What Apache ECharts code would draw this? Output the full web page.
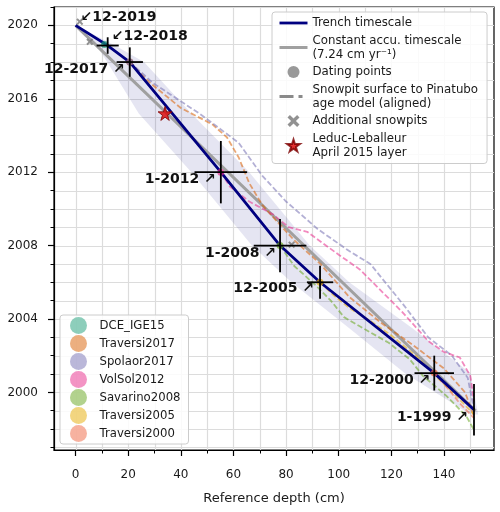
<!DOCTYPE html>
<html>
<head>
<meta charset="utf-8">
<script src="https://cdn.jsdelivr.net/npm/echarts@6/dist/echarts.min.js"></script>
<style>
  html, body { margin: 0; padding: 0; background: #fff; }
  #main { width: 500px; height: 512px; }
</style>
</head>
<body>
<div id="main"></div>
<script>
// axis ranges and ticks
var xMin = -8.2, xMax = 159, yMin = 1996.86, yMax = 2021.0;
var xMajor = [0, 20, 40, 60, 80, 100, 120, 140];
var xMinor = [10, 30, 50, 70, 90, 110, 130, 150];
var yMajor = [2000, 2004, 2008, 2012, 2016, 2020];
var yMinor = [1997, 1998, 1999, 2001, 2002, 2003, 2005, 2006, 2007, 2009, 2010, 2011, 2013, 2014, 2015, 2017, 2018, 2019, 2021];

// trench dating points
var datingLabels = ['12-2019', '12-2018', '12-2017', '1-2012', '1-2008', '12-2005', '12-2000', '1-1999'];
var datingDepth = [0, 12.2, 20.6, 55.2, 77.7, 92.9, 136.3, 151.4];
var datingYear = [2020.0, 2018.9, 2018.0, 2012.0, 2008.0, 2006.0, 2001.05, 1999.05];
var depthErr = [0, 4.2, 5, 10, 10, 5, 7.5, 0];
var yearErr = [0, 0.45, 0.8, 1.7, 1.45, 0.9, 0.95, 1.4];

// constant accumulation timescale (7.24 cm/yr)
var constDepth = [0, 152];
var constYear = [2020.0, 1999.0];

// uncertainty band around the trench timescale
var bandYear = [2020.0, 2018.9, 2018.0, 2015.2, 2012.0, 2008.0, 2006.0, 2003.5, 2001.05, 1998.8];
var bandLeft = [0, 8, 12, 24, 44, 67, 82, 104, 125, 150];
var bandRight = [0, 15, 26, 44, 66, 89, 104, 128, 150, 153];

// snowpits: [depth, year]
var pitNames = ['DCE_IGE15', 'Traversi2017', 'Spolaor2017', 'VolSol2012', 'Savarino2008', 'Traversi2005', 'Traversi2000'];
var dceIge15 = [[11.0, 2018.95]];
var traversi2017 = [[20.6, 2018.0], [28, 2016.9], [40, 2015.5], [52, 2014.6], [57.5, 2013.9], [62, 2012.8], [66, 2011.4], [71, 2010.2], [76, 2009.4], [83, 2008.3], [93, 2007.0], [104, 2005.2], [116, 2003.8], [128, 2002.6], [140, 2001.3], [148, 2000.0], [151.4, 1998.7]];
var spolaor2017 = [[20.6, 2018.0], [29.5, 2016.85], [47, 2015.2], [62, 2013.6], [71, 2011.8], [80, 2010.4], [92, 2008.9], [104, 2007.7], [112, 2007.0], [125, 2004.7], [134, 2003.0], [143, 2002.0], [149, 2000.8], [151.4, 1999.1]];
var volSol2012 = [[55.2, 2012.0], [58.7, 2011.2], [66, 2010.4], [75, 2009.7], [81, 2009.0], [88, 2008.75], [100, 2007.5], [108, 2006.7], [124, 2004.4], [134, 2002.8], [140, 2002.2], [146, 2001.9], [150, 2000.9], [151.4, 1999.5]];
var savarino2008 = [[77.7, 2008.0], [83, 2006.9], [91.5, 2005.8], [97, 2005.0], [102, 2004.1], [108, 2003.6], [119, 2002.7], [127, 2001.8], [132, 2000.9], [141, 1999.8], [148.5, 1998.7], [151.4, 1997.95]];
var traversi2005 = [[92.9, 2006.0], [98, 2005.3], [104, 2004.6], [112, 2003.9], [120, 2003.1], [130, 2001.9], [136, 2001.0], [144, 1999.9], [151.4, 1998.8]];
var traversi2000 = [[136.3, 2001.05], [141, 2000.3], [146, 1999.4], [151.4, 1998.6]];
var pitProfiles = [dceIge15, traversi2017, spolaor2017, volSol2012, savarino2008, traversi2005, traversi2000];
var pitRgb = ['27,158,119', '217,95,2', '117,112,179', '231,41,138', '102,166,30', '230,171,2', '239,101,65'];

// additional snowpits and the 2015 layer
var addDepth = [1.6, 5.4, 82.1];
var addYear = [2020.2, 2019.1, 2008.05];
var starDepth = [34.0];
var starYear = [2015.2];

// label placement (px) for the dating annotations
var annoText = ['\u219912-2019', '\u219912-2018', '12-2017 \u2197', '1-2012 \u2197', '1-2008 \u2197', '12-2005 \u2197', '12-2000 \u2197', '1-1999 \u2197'];
var annoOffset = [[5, -8], [4, -9], [-5, 7.5], [-5, 7.5], [-4, 7.5], [-6, 6], [-4, 7.5], [-6, 7.5]];

var FONT = 'DejaVu Sans';
var NAME_TRENCH = 'Trench timescale';
var NAME_CONST = 'Constant accu. timescale\n(7.24 cm yr\u207B\u00B9)';
var NAME_DATING = 'Dating points';
var NAME_SNOWPIT = 'Snowpit surface to Pinatubo\nage model (aligned)';
var NAME_ADD = 'Additional snowpits';
var NAME_STAR = 'Leduc-Leballeur\nApril 2015 layer';

var xPath = 'path://M2,0 L5,3 L8,0 L10,2 L7,5 L10,8 L8,10 L5,7 L2,10 L0,8 L3,5 L0,2 Z';
var starPath = 'path://M50,0 L61,35 L98,35 L68,57 L79,91 L50,70 L21,91 L32,57 L2,35 L39,35 Z';

var chart = echarts.init(document.getElementById('main'));

function zip(a, b) { return a.map(function (v, i) { return [v, b[i]]; }); }

var series = [];

// grid lines
series.push({
  type: 'custom', silent: true, z: 0,
  data: xMajor.concat(xMinor).map(function (v) { return [v, yMin]; }),
  renderItem: function (params, api) {
    var cs = params.coordSys;
    var x = Math.round(api.coord([api.value(0), yMin])[0]) + 0.5;
    return { type: 'line', shape: { x1: x, y1: cs.y, x2: x, y2: cs.y + cs.height }, style: { stroke: '#dcdcdc', lineWidth: 1.2 } };
  }
});
series.push({
  type: 'custom', silent: true, z: 0,
  data: yMajor.concat(yMinor).map(function (v) { return [xMin, v]; }),
  renderItem: function (params, api) {
    var cs = params.coordSys;
    var y = Math.round(api.coord([xMin, api.value(1)])[1]) + 0.5;
    return { type: 'line', shape: { x1: cs.x, y1: y, x2: cs.x + cs.width, y2: y }, style: { stroke: '#dcdcdc', lineWidth: 1.2 } };
  }
});

// band
series.push({
  type: 'custom', silent: true, z: 1,
  data: [[0, 2020]],
  renderItem: function (params, api) {
    var pts = [];
    for (var i = 0; i < bandYear.length; i++) pts.push(api.coord([bandLeft[i], bandYear[i]]));
    for (var j = bandYear.length - 1; j >= 0; j--) pts.push(api.coord([bandRight[j], bandYear[j]]));
    return { type: 'polygon', shape: { points: pts }, style: { fill: 'rgba(0,0,128,0.1)' } };
  }
});

// constant accumulation
series.push({
  name: NAME_CONST, type: 'line', z: 2, symbol: 'none', silent: true,
  data: zip(constDepth, constYear),
  lineStyle: { color: '#a0a0a0', width: 3 }, itemStyle: { color: '#a0a0a0' }
});

// snowpit profiles
pitNames.forEach(function (name, i) {
  series.push({
    name: name, type: 'line', z: 3, symbol: 'none', silent: true,
    data: pitProfiles[i],
    lineStyle: { color: 'rgba(' + pitRgb[i] + ',0.55)', width: 1.8, type: [5.5, 2.5] },
    itemStyle: { color: 'rgba(' + pitRgb[i] + ',0.5)' }
  });
});

// legend-only dash-dot entry
series.push({
  name: NAME_SNOWPIT, type: 'line', z: 3, symbol: 'none', data: [],
  lineStyle: { color: '#8a8a8a', width: 3, type: [14, 5, 4, 5] }, itemStyle: { color: '#8a8a8a' }
});

// trench timescale
series.push({
  name: NAME_TRENCH, type: 'line', z: 4, symbol: 'none', silent: true,
  data: zip(datingDepth, datingYear),
  lineStyle: { color: '#000080', width: 2.8 }, itemStyle: { color: '#000080' }
});

// dating points (surface of each pit)
series.push({
  name: NAME_DATING, type: 'scatter', z: 5, symbol: 'circle', symbolSize: 7, silent: true,
  itemStyle: { color: '#808080' },
  data: pitProfiles.map(function (p, i) {
    return { value: p[0], itemStyle: { color: 'rgba(' + pitRgb[i] + ',0.85)' } };
  })
});

// additional snowpits
series.push({
  name: NAME_ADD, type: 'scatter', z: 5, symbol: xPath, symbolSize: 7, silent: true,
  itemStyle: { color: '#777777' },
  data: zip(addDepth, addYear)
});

// error bars
series.push({
  type: 'custom', silent: true, z: 6,
  data: datingDepth.map(function (d, i) { return [d, datingYear[i], depthErr[i], yearErr[i]]; }),
  encode: { x: 0, y: 1 },
  renderItem: function (params, api) {
    var x = api.value(0), y = api.value(1), dx = api.value(2), dy = api.value(3);
    var children = [];
    var st = { stroke: '#000', lineWidth: 1.8 };
    if (dx > 0) {
      var a = api.coord([x - dx, y]), b = api.coord([x + dx, y]);
      children.push({ type: 'line', shape: { x1: a[0], y1: a[1], x2: b[0], y2: b[1] }, style: st });
    }
    if (dy > 0) {
      var c = api.coord([x, y - dy]), d = api.coord([x, y + dy]);
      children.push({ type: 'line', shape: { x1: c[0], y1: c[1], x2: d[0], y2: d[1] }, style: st });
    }
    return { type: 'group', children: children };
  }
});

// April 2015 layer
series.push({
  name: NAME_STAR, type: 'scatter', z: 7, symbol: starPath, symbolSize: 14, silent: true,
  itemStyle: { color: '#dd0000', borderColor: '#7a0000', borderWidth: 1 },
  data: zip(starDepth, starYear)
});

// annotations
series.push({
  type: 'custom', silent: true, z: 8,
  data: datingDepth.map(function (d, i) { return [d, datingYear[i], i]; }),
  encode: { x: 0, y: 1 },
  renderItem: function (params, api) {
    var i = api.value(2);
    var p = api.coord([api.value(0), api.value(1)]);
    var off = annoOffset[i];
    return {
      type: 'text',
      x: p[0] + off[0], y: p[1] + off[1],
      style: {
        text: annoText[i], font: 'bold 14px "DejaVu Sans"', fill: '#111',
        align: off[0] > 0 ? 'left' : 'right', verticalAlign: 'middle'
      }
    };
  }
});

var tickLabelStyle = { fontFamily: FONT, fontSize: 12, color: '#1a1a1a', formatter: function (v) { return String(v); } };
var noSymbol = { opacity: 0 };

chart.setOption({
  animation: false,
  grid: { left: 54, top: 7, width: 440, height: 443, show: true, borderColor: '#000', borderWidth: 1.2, backgroundColor: 'transparent' },
  xAxis: [{
    type: 'value', min: xMin, max: xMax,
    name: 'Reference depth (cm)', nameLocation: 'middle', nameGap: 42,
    nameTextStyle: { fontFamily: FONT, fontSize: 13, color: '#1a1a1a' },
    axisLine: { show: true, onZero: false, lineStyle: { color: '#000', width: 1.2 } },
    axisTick: { show: true, length: 6, lineStyle: { color: '#000', width: 1.2 }, customValues: xMajor },
    axisLabel: Object.assign({ margin: 19, customValues: xMajor }, tickLabelStyle),
    splitLine: { show: false }
  }, {
    type: 'value', min: xMin, max: xMax, position: 'bottom',
    axisLine: { show: false, onZero: false },
    axisTick: { show: true, length: 3.5, lineStyle: { color: '#000', width: 1 }, customValues: xMinor },
    axisLabel: { show: false, customValues: xMinor },
    splitLine: { show: false }
  }],
  yAxis: [{
    type: 'value', min: yMin, max: yMax,
    axisLine: { show: true, onZero: false, lineStyle: { color: '#000', width: 1.2 } },
    axisTick: { show: true, length: 6, lineStyle: { color: '#000', width: 1.2 }, customValues: yMajor },
    axisLabel: Object.assign({ margin: 16, customValues: yMajor }, tickLabelStyle),
    splitLine: { show: false }
  }, {
    type: 'value', min: yMin, max: yMax, position: 'left',
    axisLine: { show: false, onZero: false },
    axisTick: { show: true, length: 3.5, lineStyle: { color: '#000', width: 1 }, customValues: yMinor },
    axisLabel: { show: false, customValues: yMinor },
    splitLine: { show: false }
  }],
  legend: [{
    orient: 'vertical', left: 272, top: 12, z: 20,
    padding: [4, 9, 4, 6], itemGap: 3.5, itemWidth: 28, itemHeight: 12,
    backgroundColor: 'rgba(255,255,255,0.85)', borderColor: '#cccccc', borderWidth: 1, borderRadius: 3,
    selectedMode: false,
    lineStyle: { width: 'inherit' },
    textStyle: { fontFamily: FONT, fontSize: 11.8, color: '#1a1a1a', lineHeight: 14 },
    data: [
      { name: NAME_TRENCH, itemStyle: noSymbol },
      { name: NAME_CONST, itemStyle: noSymbol },
      NAME_DATING,
      { name: NAME_SNOWPIT, itemStyle: noSymbol },
      NAME_ADD,
      NAME_STAR
    ]
  }, {
    orient: 'vertical', left: 60, top: 315, z: 20,
    padding: [2, 8, 2, 10], itemGap: 1, itemWidth: 32, itemHeight: 17, icon: 'circle',
    backgroundColor: 'rgba(255,255,255,0.85)', borderColor: '#cccccc', borderWidth: 1, borderRadius: 3,
    selectedMode: false,
    textStyle: { fontFamily: FONT, fontSize: 11.7, color: '#1a1a1a' },
    data: pitNames
  }],
  series: series
});
</script>
</body>
</html>
